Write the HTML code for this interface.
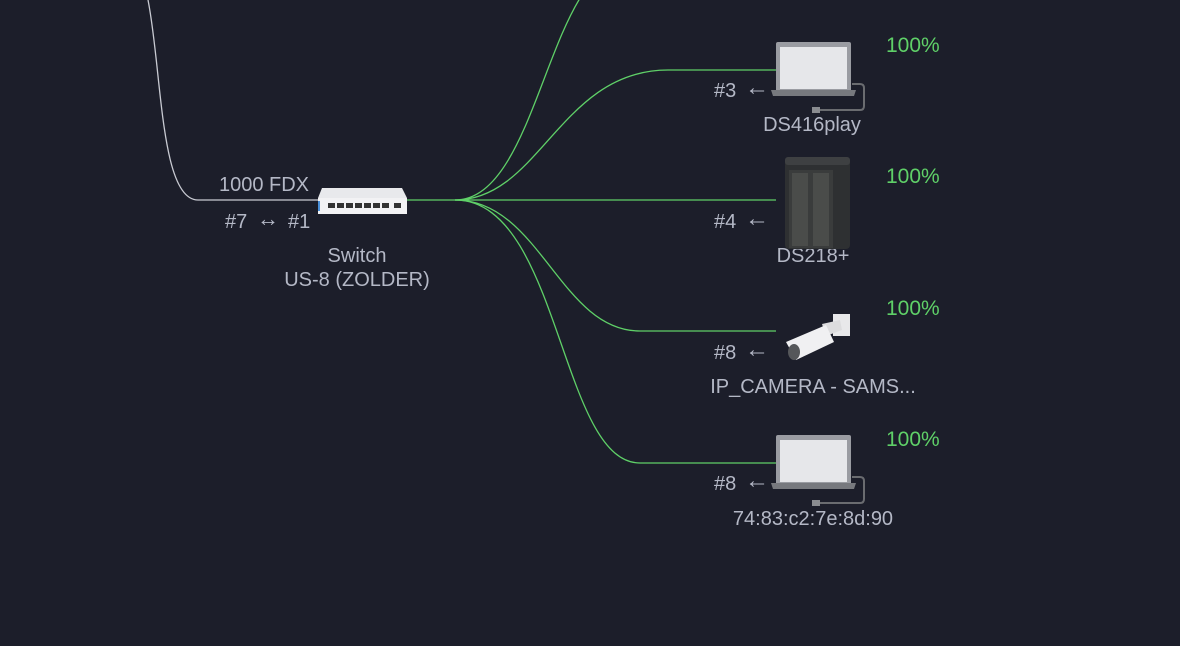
<!DOCTYPE html>
<html><head><meta charset="utf-8"><style>
html,body{margin:0;padding:0;background:#1c1e2a;}
svg{display:block}
text{font-family:"Liberation Sans",sans-serif;}
</style></head><body>
<svg width="1180" height="646" viewBox="0 0 1180 646">
<rect width="1180" height="646" fill="#1c1e2a"/>
<g fill="none" stroke-width="1.3">
<path d="M148,0 C162,70 160,200 198,200 L320,200" stroke="#c8cad2"/>
<path d="M405,200 L455,200 C520,200 540,60 582,-5" stroke="#5fd068"/>
<path d="M455,200 C540,200 560,70 668,70 L776,70" stroke="#5fd068"/>
<path d="M455,200 L776,200" stroke="#5fd068"/>
<path d="M455,200 C540,200 560,331 640,331 L776,331" stroke="#5fd068"/>
<path d="M455,200 C560,200 560,463 640,463 L776,463" stroke="#5fd068"/>
</g>
<g fill="#b4b8c6" font-size="20">
<text x="812" y="0" text-anchor="middle">AP - AP - technisch</text>
<text x="264" y="191" text-anchor="middle">1000  FDX</text>
<text x="225" y="228">#7</text><text x="257" y="226" font-size="22">↔</text><text x="288" y="228">#1</text>
<text x="357" y="262" text-anchor="middle">Switch</text>
<text x="357" y="286" text-anchor="middle">US-8 (ZOLDER)</text>
<text x="714" y="97">#3</text><text x="745" y="95" font-size="24">←</text>
<text x="812" y="131" text-anchor="middle">DS416play</text>
<text x="714" y="228">#4</text><text x="745" y="226" font-size="24">←</text>
<text x="813" y="262" text-anchor="middle">DS218+</text>
<text x="714" y="359">#8</text><text x="745" y="357" font-size="24">←</text>
<text x="813" y="393" text-anchor="middle">IP_CAMERA - SAMS...</text>
<text x="714" y="490">#8</text><text x="745" y="488" font-size="24">←</text>
<text x="813" y="525" text-anchor="middle">74:83:c2:7e:8d:90</text>
</g>
<g fill="#5fd068" font-size="21">
<text x="886" y="52">100%</text>
<text x="886" y="183">100%</text>
<text x="886" y="315">100%</text>
<text x="886" y="446">100%</text>
</g>
<g>
<path d="M322,188 L402,188 L407,198 L407,214 L318,214 L318,198 Z" fill="#e8e9ec"/>
<rect x="318" y="198" width="89" height="16" fill="#f2f2f4"/>
<g fill="#333">
<rect x="328" y="203" width="7" height="5"/><rect x="337" y="203" width="7" height="5"/><rect x="346" y="203" width="7" height="5"/><rect x="355" y="203" width="7" height="5"/><rect x="364" y="203" width="7" height="5"/><rect x="373" y="203" width="7" height="5"/><rect x="382" y="203" width="7" height="5"/><rect x="394" y="203" width="7" height="5"/>
</g>
<rect x="318" y="201" width="2" height="10" fill="#4a8fd8"/>
</g>
<g id="lap">
<rect x="776" y="42" width="75" height="52" rx="2" fill="#9a9ca2"/>
<rect x="780" y="47" width="67" height="42" fill="#e6e7ea"/>
<path d="M771,90 L856,90 L854,96 L773,96 Z" fill="#77797e"/>
<path d="M852,84 L860,84 Q864,84 864,88 L864,106 Q864,110 860,110 L816,110" fill="none" stroke="#6a6c70" stroke-width="2"/>
<rect x="812" y="107" width="8" height="6" fill="#8a8c90"/>
</g>
<use href="#lap" y="393"/>
<rect x="785" y="157" width="65" height="92" rx="4" fill="#2e3032"/>
<rect x="789" y="170" width="44" height="78" fill="#3a3c3c"/>
<rect x="792" y="173" width="16" height="73" fill="#4a4c4a"/>
<rect x="813" y="173" width="16" height="73" fill="#4a4c4a"/>
<rect x="785" y="157" width="65" height="8" rx="3" fill="#3e4042"/>
<g>
<path d="M833,314 L850,314 L850,336 L833,336 Z" fill="#e8e8ea"/>
<path d="M822,324 L840,320 L842,330 L826,336 Z" fill="#dcdcde"/>
<path d="M786,342 L826,325 L834,342 L796,360 Z" fill="#f0f0f2"/>
<ellipse cx="794" cy="352" rx="6" ry="8" fill="#55575a"/>
</g>
</svg>
</body></html>
